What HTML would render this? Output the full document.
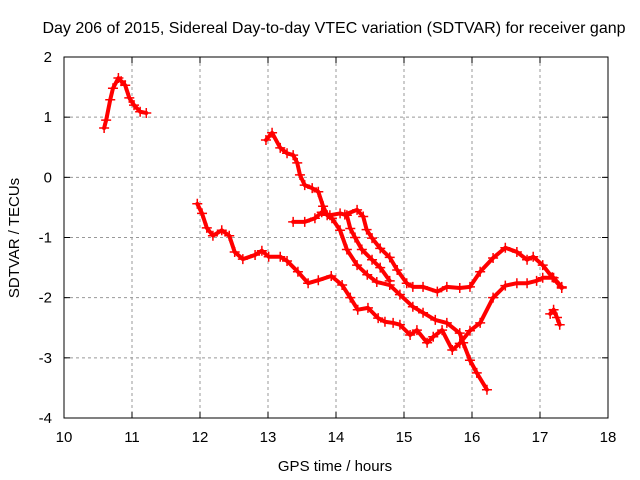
<!DOCTYPE html>
<html><head><meta charset="utf-8"><style>
body{margin:0;background:#fff}
svg{display:block;font-family:"Liberation Sans",sans-serif}
</style></head><body>
<svg id="chart" width="640" height="480" viewBox="0 0 640 480" xmlns="http://www.w3.org/2000/svg">
<rect width="640" height="480" fill="#fff"/>
<text x="334" y="33" font-size="16" text-anchor="middle" fill="#000">Day 206 of 2015, Sidereal Day-to-day VTEC variation (SDTVAR) for receiver ganp</text>
<text x="335" y="471" font-size="15" text-anchor="middle" fill="#000">GPS time / hours</text>
<text transform="translate(19,238) rotate(-90)" font-size="15" text-anchor="middle" fill="#000">SDTVAR / TECUs</text>
<g id="grid"></g><g id="ticks"></g><g id="series"></g>
<rect x="64" y="57" width="544" height="361" fill="none" stroke="#000" stroke-width="1"/>
</svg>
<script>
const xTicks=[10,11,12,13,14,15,16,17,18];
const yTicks=[2,1,0,-1,-2,-3,-4];
const seriesA=[[10.59,0.82],[10.62,0.95],[10.68,1.29],[10.72,1.48],[10.80,1.65],[10.84,1.6],[10.90,1.53],[10.96,1.32],[11.03,1.2],[11.12,1.09],[11.21,1.07]];
const seriesB=[[11.96,-0.44],[12.03,-0.6],[12.1,-0.84],[12.19,-0.97],[12.32,-0.88],[12.43,-0.97],[12.51,-1.24],[12.63,-1.36],[12.81,-1.29],[12.91,-1.22],[13.01,-1.32],[13.18,-1.32],[13.28,-1.39],[13.44,-1.57],[13.59,-1.76],[13.74,-1.71],[13.93,-1.64],[14.09,-1.79],[14.21,-2.0],[14.32,-2.2],[14.47,-2.17],[14.62,-2.34],[14.72,-2.4],[14.84,-2.42],[14.94,-2.45],[15.09,-2.62],[15.19,-2.54],[15.34,-2.75],[15.43,-2.65],[15.56,-2.54],[15.71,-2.87],[15.82,-2.76],[15.97,-2.55],[16.12,-2.42],[16.31,-2.0],[16.49,-1.8],[16.66,-1.76],[16.81,-1.76],[16.95,-1.72],[17.04,-1.67],[17.2,-1.67],[17.32,-1.82]];
const seriesC=[[12.97,0.62],[13.06,0.74],[13.18,0.49],[13.28,0.4],[13.37,0.37],[13.43,0.24],[13.47,0.04],[13.54,-0.13],[13.65,-0.18],[13.74,-0.24],[13.81,-0.48],[13.87,-0.63],[13.94,-0.68],[14.06,-0.88],[14.16,-1.2],[14.31,-1.46],[14.46,-1.62],[14.6,-1.74],[14.79,-1.79],[14.94,-1.95],[15.13,-2.15],[15.28,-2.25],[15.46,-2.37],[15.63,-2.42],[15.82,-2.59],[15.87,-2.75],[15.97,-3.04],[16.07,-3.25],[16.22,-3.53]];
const seriesD=[[13.37,-0.74],[13.54,-0.74],[13.69,-0.68],[13.79,-0.58],[13.91,-0.63],[14.06,-0.6],[14.16,-0.63],[14.21,-0.85],[14.28,-1.0],[14.38,-1.2],[14.53,-1.37],[14.65,-1.5],[14.79,-1.72]];
const seriesE=[[14.13,-0.62],[14.31,-0.54],[14.4,-0.65],[14.45,-0.87],[14.53,-1.01],[14.65,-1.18],[14.79,-1.33],[14.9,-1.54],[15.04,-1.76],[15.13,-1.82],[15.28,-1.82],[15.49,-1.9],[15.63,-1.82],[15.82,-1.84],[15.97,-1.82],[16.12,-1.57],[16.31,-1.34],[16.49,-1.17],[16.66,-1.24],[16.81,-1.37],[16.9,-1.32],[17.04,-1.46],[17.18,-1.66],[17.32,-1.84]];
const seriesF=[[17.15,-2.27],[17.2,-2.2],[17.25,-2.33],[17.29,-2.45]];
const allSeries=[seriesA,seriesB,seriesC,seriesD,seriesE,seriesF];
const NS="http://www.w3.org/2000/svg";
const X0=64,X1=608,Y0=418,Y1=57;
function sx(v){return X0+(v-10)/8*(X1-X0);}
function sy(v){return Y0-(v+4)/6*(Y0-Y1);}
function mk(tag,attrs,parent){const e=document.createElementNS(NS,tag);for(const k in attrs)e.setAttribute(k,attrs[k]);parent.appendChild(e);return e;}
const grid=document.getElementById('grid'),ticks=document.getElementById('ticks'),ser=document.getElementById('series');
xTicks.forEach(t=>{const x=sx(t);
 if(t>10&&t<18){const g=mk('line',{x1:x,x2:x,y1:Y1,y2:Y0,stroke:'#999','stroke-dasharray':'3,3'},grid);
 
 }
 const tx=mk('text',{x:x,y:442,'font-size':15,'text-anchor':'middle'},ticks);tx.textContent=t;
 
 
 mk('line',{x1:x,x2:x,y1:Y0,y2:Y0-6,stroke:'#000'},ticks);mk('line',{x1:x,x2:x,y1:Y1,y2:Y1+6,stroke:'#000'},ticks);});
yTicks.forEach(t=>{const y=sy(t);
 if(t>-4&&t<2){const g=mk('line',{x1:X0,x2:X1,y1:y,y2:y,stroke:'#999','stroke-dasharray':'3,3'},grid);
 
 }
 const tx=mk('text',{x:52,y:y+5,'font-size':15,'text-anchor':'end'},ticks);tx.textContent=t;
 
 
 mk('line',{x1:X0,x2:X0+6,y1:y,y2:y,stroke:'#000'},ticks);mk('line',{x1:X1,x2:X1-6,y1:y,y2:y,stroke:'#000'},ticks);});
allSeries.forEach((s,i)=>{
 const pl=mk('polyline',{points:s.map(p=>sx(p[0])+','+sy(p[1])).join(' '),fill:'none',stroke:'#f00','stroke-width':4,'stroke-linejoin':'round','stroke-linecap':'round'},ser);
 
 
 s.forEach(p=>{const x=sx(p[0]),y=sy(p[1]);
  const m=mk('path',{d:`M${x-5},${y}H${x+5}M${x},${y-5}V${y+5}`,stroke:'#f00','stroke-width':1.5},ser);
  
  });
});
</script>
</body></html>
